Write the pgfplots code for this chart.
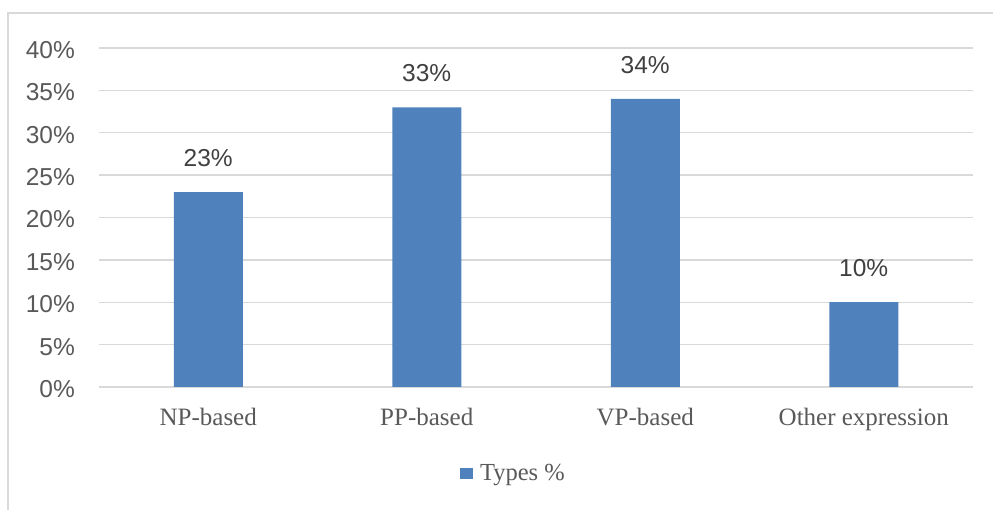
\documentclass[border=0pt]{standalone}
\usepackage{pgfplots}
\pgfplotsset{compat=1.18}
\usepackage{fontspec}
\setmainfont{Liberation Serif}
\newfontfamily\arialfont{Liberation Sans}

\definecolor{barblue}{HTML}{4F81BD}
\definecolor{gridgray}{HTML}{D9D9D9}
\definecolor{ticktext}{HTML}{595959}
\definecolor{labeltext}{HTML}{404040}

\begin{document}
\begin{tikzpicture}[x=1pt,y=1pt]
  \useasboundingbox (0,0) rectangle (993,510);
  % chart area border (top and left edges)
  \draw[gridgray, line width=1.3pt] (8,0) -- (8,497) -- (993,497);

  \begin{axis}[
    at={(99pt,123pt)}, anchor=south west,
    scale only axis,
    width=874pt, height=339pt,
    xmin=-0.5, xmax=3.5,
    ymin=0, ymax=40,
    xtick=data,
    xticklabels={NP-based, PP-based, VP-based, Other expression},
    ytick={0,5,...,40},
    yticklabels={0\%,5\%,10\%,15\%,20\%,25\%,30\%,35\%,40\%},
    axis line style={draw=none},
    major tick length=0pt,
    ymajorgrids,
    major grid style={gridgray, line width=1.3pt},
    xticklabel style={font=\fontsize{25}{30}\selectfont, text=ticktext,
                      anchor=north, inner sep=0pt, yshift=-21pt},
    yticklabel style={font=\arialfont\fontsize{24.5}{29}\selectfont, text=ticktext,
                      anchor=east, inner sep=0pt, xshift=-24pt, yshift=-2pt},
    ybar, bar width=69pt,
    nodes near coords={\pgfmathprintnumber[assume math mode=true]{\pgfplotspointmeta}\%},
    nodes near coords style={font=\arialfont\fontsize{24.5}{29}\selectfont,
                             text=labeltext, anchor=south, inner sep=0pt, yshift=25pt},
    legend style={at={(0.473,-0.255)}, anchor=center, draw=none, fill=none,
                  font=\fontsize{24.5}{29}\selectfont, text=ticktext,
                  inner sep=0pt, column sep=7pt,
                  nodes={inner sep=0pt}},
    legend image code/.code={\fill[barblue] (0pt,-5.5pt) rectangle (13pt,5.5pt);},
  ]
    \addplot[fill=barblue, draw=none] coordinates {(0,23) (1,33) (2,34) (3,10)};
    \addlegendentry{Types \%}
  \end{axis}
\end{tikzpicture}
\end{document}
